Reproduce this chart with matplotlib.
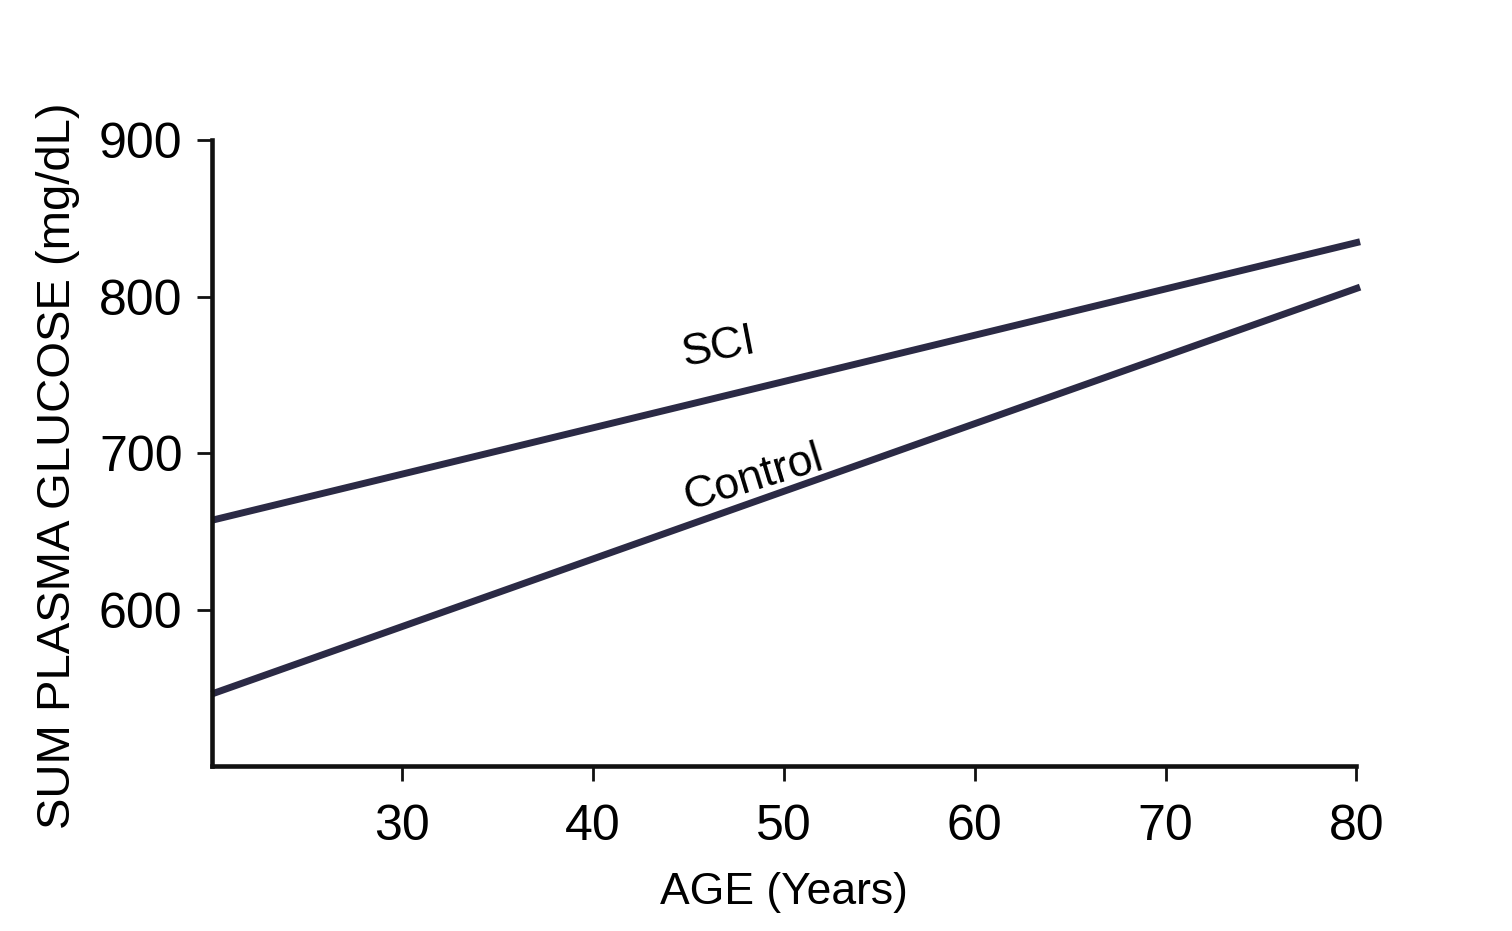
import numpy as np
import matplotlib
matplotlib.use('Agg')
import matplotlib.pyplot as plt

plt.rcParams['font.family'] = ['Liberation Sans', 'DejaVu Sans']

# regression lines: age endpoints and fitted glucose values
age = [20, 80.2]
sci = [657, 835]
control = [546, 806]

xticks = [30, 40, 50, 60, 70, 80]
yticks = [600, 700, 800, 900]

fig = plt.figure(figsize=(15.12, 9.31), dpi=100)
ax = fig.add_axes([0.140, 0.1772, 0.757, 0.6724])

line_col = '#2b2a45'
ax.plot(age, sci, color=line_col, lw=5, solid_capstyle='butt', clip_on=False)
ax.plot(age, control, color=line_col, lw=5, solid_capstyle='butt', clip_on=False)

ax.text(44.5, 750, 'SCI', fontsize=32, rotation=11, ha='left', va='bottom')
ax.text(44.5, 658, 'Control', fontsize=32, rotation=17, ha='left', va='bottom')

ax.set_xlim(20, 80)
ax.set_ylim(500, 900)
ax.set_xticks(xticks)
ax.set_yticks(yticks)

ax.spines['top'].set_visible(False)
ax.spines['right'].set_visible(False)
for s in ['left', 'bottom']:
    ax.spines[s].set_linewidth(3.3)
    ax.spines[s].set_color('#111111')
ax.tick_params(axis='both', length=11, width=2, color='#111111', labelsize=36)
ax.tick_params(axis='x', pad=16)
ax.tick_params(axis='y', pad=10)

ax.set_xlabel('AGE (Years)', fontsize=32, labelpad=16)
ax.set_ylabel('SUM PLASMA GLUCOSE (mg/dL)', fontsize=34)
ax.yaxis.set_label_coords(-0.115, 0.48)

plt.savefig('out.png', dpi=100)
